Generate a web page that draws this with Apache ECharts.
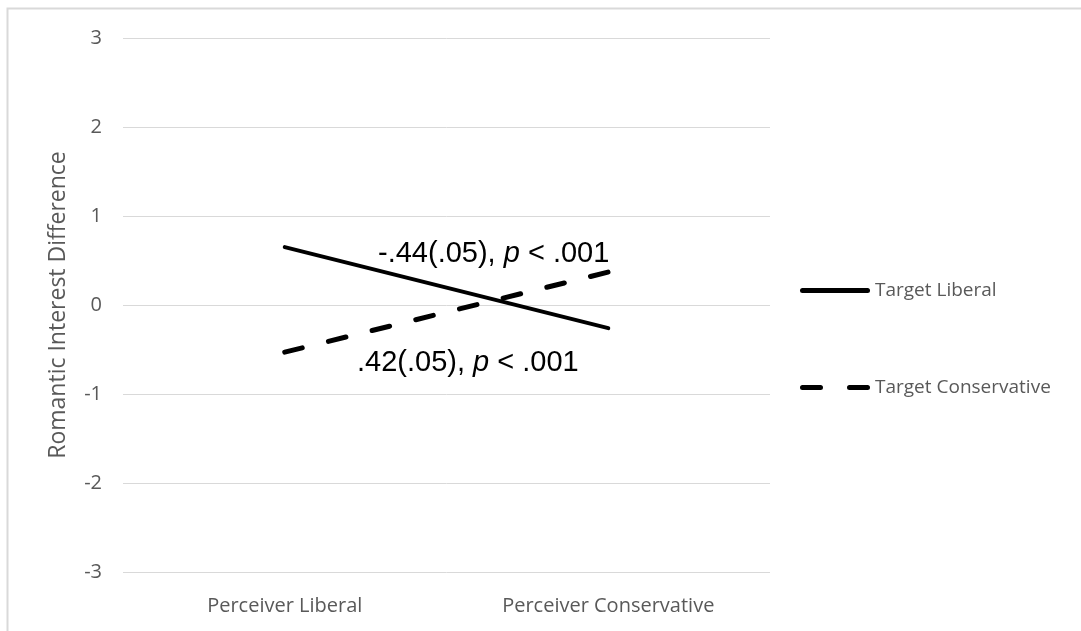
<!DOCTYPE html>
<html>
<head>
<meta charset="utf-8">
<script src="https://cdn.jsdelivr.net/npm/echarts@6/dist/echarts.min.js"></script>
<style>
html,body{margin:0;padding:0;background:#fff;}
#chart{width:1081px;height:631px;}
</style>
</head>
<body>
<div id="chart"></div>
<script>
const categories = ['Perceiver Liberal', 'Perceiver Conservative'];
const targetLiberal = [0.65, -0.26];
const targetConservative = [-0.53, 0.37];
const yTicks = [-3, -2, -1, 0, 1, 2, 3];
const seriesNames = ['Target Liberal', 'Target Conservative'];
const annotationLiberal = ['-.44(.05), ', 'p', ' < .001'];
const annotationConservative = ['.42(.05), ', 'p', ' < .001'];

const chart = echarts.init(document.getElementById('chart'));
const uiFont = '"Open Sans", Lato, sans-serif';
const annFont = '"Liberation Sans", Arial, sans-serif';
const grey = '#595959';

function richText(parts) {
  return '{a|' + parts[0] + '}{i|' + parts[1] + '}{a|' + parts[2] + '}';
}
const annRich = {
  a: { fontFamily: annFont, fontSize: 29, fill: '#000' },
  i: { fontFamily: annFont, fontSize: 29, fontStyle: 'italic', fill: '#000' }
};

const solidIcon = 'path://M2.5,0H67.5A2.5,2.5 0 0 1 67.5,5H2.5A2.5,2.5 0 0 1 2.5,0Z';
const dashIcon = 'path://M2.5,0H20.5A2.5,2.5 0 0 1 20.5,5H2.5A2.5,2.5 0 0 1 2.5,0Z M49.5,0H67.5A2.5,2.5 0 0 1 67.5,5H49.5A2.5,2.5 0 0 1 49.5,0Z';

chart.setOption({
  animation: false,
  backgroundColor: '#fff',
  grid: { left: 123, right: 311, top: 38, bottom: 59 },
  xAxis: {
    type: 'category',
    data: categories,
    boundaryGap: true,
    axisLine: { show: false },
    axisTick: { show: false },
    axisLabel: { color: grey, fontFamily: uiFont, fontSize: 20, margin: 24 }
  },
  yAxis: {
    type: 'value',
    min: yTicks[0],
    max: yTicks[yTicks.length - 1],
    interval: 1,
    name: 'Romantic Interest Difference',
    nameLocation: 'middle',
    nameRotate: 90,
    nameGap: 53,
    nameMoveOverlap: false,
    nameTextStyle: { color: grey, fontFamily: uiFont, fontSize: 23 },
    axisLine: { show: false },
    axisTick: { show: false },
    axisLabel: { color: grey, fontFamily: uiFont, fontSize: 20, margin: 21 },
    splitLine: { lineStyle: { color: '#d9d9d9', width: 1 } }
  },
  legend: {
    orient: 'vertical',
    left: 795,
    top: 276,
    itemWidth: 70,
    itemHeight: 5,
    itemGap: 78,
    textStyle: { color: grey, fontFamily: uiFont, fontSize: 19 },
    data: [
      { name: seriesNames[0], icon: solidIcon, itemStyle: { color: '#000' } },
      { name: seriesNames[1], icon: dashIcon, itemStyle: { color: '#000' } }
    ]
  },
  series: [
    {
      name: seriesNames[0],
      type: 'line',
      data: targetLiberal,
      symbol: 'none',
      lineStyle: { color: '#000', width: 4, cap: 'round' },
      itemStyle: { color: '#000' }
    },
    {
      name: seriesNames[1],
      type: 'line',
      data: targetConservative,
      symbol: 'none',
      lineStyle: { color: '#000', width: 5, type: [18, 27], cap: 'round' },
      itemStyle: { color: '#000' }
    }
  ],
  graphic: [
    {
      type: 'rect',
      shape: { x: 7.5, y: 8.5, width: 1200, height: 700 },
      style: { fill: 'none', stroke: '#d9d9d9', lineWidth: 2 },
      silent: true
    },
    {
      type: 'text',
      left: 378, top: 239,
      style: { text: richText(annotationLiberal), rich: annRich }
    },
    {
      type: 'text',
      left: 357, top: 348,
      style: { text: richText(annotationConservative), rich: annRich }
    }
  ]
});
</script>
</body>
</html>
